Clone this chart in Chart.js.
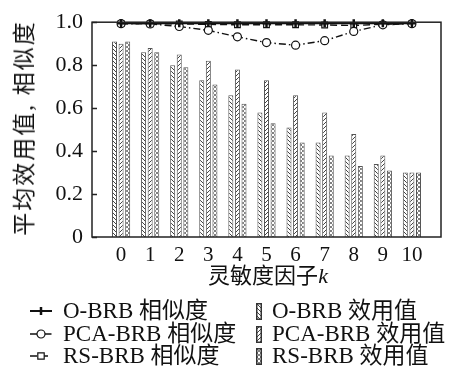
<!DOCTYPE html>
<html lang="zh">
  <head>
    <meta charset="UTF-8" />
    <title>sensitivity</title>
    <script src="https://cdn.jsdelivr.net/npm/chart.js@4.4.0/dist/chart.umd.min.js"></script>
    <style>
      html, body { margin: 0; padding: 0; background: #fff; }
      .wrap { position: relative; width: 454px; height: 372px; overflow: hidden; }
      .wrap canvas { position: absolute; left: 0; top: 0; }
      .txt { position: absolute; white-space: nowrap; color: #111;
             font-family: 'Liberation Serif', 'Noto Sans CJK SC', serif; }
      .ytitle { left: 22px; top: 128px; font-size: 23px; letter-spacing: 2px;
                transform: translate(-50%, -50%) rotate(-90deg); }
      .xtitle { left: 268px; top: 273px; font-size: 22px; transform: translate(-50%, -50%); }
      .xtitle i { font-family: 'Liberation Serif', serif; }
      .leg { font-size: 23px; line-height: 22px; height: 22px; }
      .leg canvas { position: absolute; }
    </style>
  </head>
  <body>
    <div class="wrap" id="wrap">
      <canvas id="chart" width="454" height="372"></canvas>
      <div class="txt ytitle">平均效用值, 相似度</div>
      <div class="txt xtitle">灵敏度因子<i>k</i></div>
    </div>

    <script>
      //data
      const categories = [0, 1, 2, 3, 4, 5, 6, 7, 8, 9, 10];
      const oUtility = [0.91, 0.86, 0.80, 0.73, 0.66, 0.58, 0.51, 0.44, 0.38, 0.34, 0.30];
      const pcaUtility = [0.90, 0.88, 0.85, 0.82, 0.78, 0.73, 0.66, 0.58, 0.48, 0.38, 0.30];
      const rsUtility = [0.91, 0.86, 0.79, 0.71, 0.62, 0.53, 0.44, 0.38, 0.33, 0.31, 0.30];
      const oSimilarity = [0.995, 0.995, 0.995, 0.995, 0.995, 0.995, 0.995, 0.995, 0.995, 0.995, 0.995];
      const pcaSimilarity = [0.993, 0.992, 0.98, 0.962, 0.932, 0.905, 0.893, 0.914, 0.957, 0.988, 0.993];
      const rsSimilarity = [0.994, 0.993, 0.992, 0.99, 0.988, 0.988, 0.988, 0.987, 0.985, 0.99, 0.994];
      const yTicks = [0, 0.2, 0.4, 0.6, 0.8, 1.0];

      const toPoints = (vals) => categories.map((k, i) => ({ x: k, y: vals[i] }));

      //patterns
      function makePattern(kind) {
        const c = document.createElement('canvas');
        c.width = 4;
        c.height = 4;
        const g = c.getContext('2d');
        g.fillStyle = '#fff';
        g.fillRect(0, 0, 4, 4);
        g.strokeStyle = '#444';
        g.lineWidth = 1;
        if (kind === 'back') {
          g.beginPath();
          g.moveTo(-1, -1); g.lineTo(5, 5);
          g.moveTo(-1, 3); g.lineTo(1, 5);
          g.moveTo(3, -1); g.lineTo(5, 1);
          g.stroke();
        } else if (kind === 'fwd') {
          g.beginPath();
          g.moveTo(5, -1); g.lineTo(-1, 5);
          g.moveTo(1, -1); g.lineTo(-1, 1);
          g.moveTo(5, 3); g.lineTo(3, 5);
          g.stroke();
        } else {
          g.fillStyle = '#808080';
          g.fillRect(0, 0, 2, 2);
          g.fillRect(2, 2, 2, 2);
        }
        return g.createPattern(c, 'repeat');
      }

      const barStyle = (pattern) => ({
        type: 'bar',
        backgroundColor: pattern,
        borderColor: '#555',
        borderWidth: 1,
        categoryPercentage: 0.68,
        barPercentage: 0.76,
        order: 3
      });

      const lineStyle = {
        type: 'line',
        borderColor: '#111',
        pointBorderColor: '#111',
        fill: false,
        clip: false,
        order: 1
      };

      const datasets = [
        Object.assign({ label: 'O-BRB 效用值', data: toPoints(oUtility) }, barStyle(makePattern('back'))),
        Object.assign({ label: 'PCA-BRB 效用值', data: toPoints(pcaUtility) }, barStyle(makePattern('fwd'))),
        Object.assign({ label: 'RS-BRB 效用值', data: toPoints(rsUtility) }, barStyle(makePattern('dots'))),
        Object.assign({}, lineStyle, {
          label: 'O-BRB 相似度', data: toPoints(oSimilarity),
          borderWidth: 2, pointBorderWidth: 2.5,
          pointStyle: 'cross', pointRadius: 4, pointBackgroundColor: '#111'
        }),
        Object.assign({}, lineStyle, {
          label: 'PCA-BRB 相似度', data: toPoints(pcaSimilarity),
          borderWidth: 1.4, borderDash: [7, 3, 1.5, 3],
          pointStyle: 'circle', pointRadius: 4, pointBorderWidth: 1.2, pointBackgroundColor: '#fff'
        }),
        Object.assign({}, lineStyle, {
          label: 'RS-BRB 相似度', data: toPoints(rsSimilarity),
          borderWidth: 1.4, borderDash: [7, 4],
          pointStyle: 'rect', pointRadius: 4, pointBorderWidth: 1.2, pointBackgroundColor: '#fff'
        })
      ];

      //box + inner ticks
      const frame = {
        id: 'frame',
        afterDraw(chart) {
          const { ctx, chartArea: a } = chart;
          const y = chart.scales.y;
          ctx.save();
          ctx.strokeStyle = '#222';
          ctx.lineWidth = 1.5;
          ctx.strokeRect(a.left, a.top, a.right - a.left, a.bottom - a.top);
          ctx.beginPath();
          yTicks.forEach((v) => {
            const py = Math.round(y.getPixelForValue(v)) + 0.5;
            ctx.moveTo(a.left, py);
            ctx.lineTo(a.left + 5, py);
          });
          ctx.stroke();
          ctx.restore();
        }
      };

      const tickFont = { family: "'Liberation Serif', serif" };

      //config
      const config = {
        data: { datasets },
        options: {
          responsive: false,
          animation: false,
          layout: { padding: { left: 0, top: 19, right: 13, bottom: 0 } },
          plugins: { legend: { display: false }, title: { display: false }, tooltip: { enabled: false } },
          scales: {
            x: {
              type: 'linear',
              min: -1,
              max: 11,
              offset: false,
              grid: { display: false, drawTicks: false, offset: false },
              border: { display: false },
              ticks: {
                stepSize: 1,
                autoSkip: false,
                maxRotation: 0,
                padding: 6,
                color: '#111',
                font: Object.assign({ size: 21 }, tickFont),
                callback: (v) => (v >= 0 && v <= 10 ? String(v) : '')
              },
              afterFit: (s) => { s.height = 135; }
            },
            y: {
              min: 0,
              max: 1,
              grid: { display: false, drawTicks: false },
              border: { display: false },
              ticks: {
                stepSize: 0.2,
                padding: 9,
                color: '#111',
                font: Object.assign({ size: 22 }, tickFont),
                callback: (v) => (v === 0 ? '0' : v.toFixed(1))
              },
              afterFit: (s) => { s.width = 92; }
            }
          }
        },
        plugins: [frame]
      };

      //init
      const chart = new Chart(document.getElementById('chart'), config);

      //legend
      const wrap = document.getElementById('wrap');
      const rows = [311, 334, 356];
      function addLegend(text, left, top, iconW, iconH, iconX, draw) {
        const d = document.createElement('div');
        d.className = 'txt leg';
        d.style.left = left + 'px';
        d.style.top = (top - 11) + 'px';
        d.textContent = text;
        wrap.appendChild(d);
        const c = document.createElement('canvas');
        c.width = iconW;
        c.height = iconH;
        c.style.left = iconX + 'px';
        c.style.top = (top - iconH / 2) + 'px';
        wrap.appendChild(c);
        draw(c.getContext('2d'), iconW, iconH);
      }
      function lineIcon(ds) {
        return (g, w, h) => {
          g.strokeStyle = '#111';
          g.lineWidth = ds.borderWidth;
          g.setLineDash(ds.borderDash || []);
          g.beginPath();
          g.moveTo(0, h / 2);
          g.lineTo(w, h / 2);
          g.stroke();
          g.setLineDash([]);
          g.lineWidth = ds.pointBorderWidth;
          g.fillStyle = ds.pointBackgroundColor;
          const cx = w / 2, cy = h / 2, r = 4;
          g.beginPath();
          if (ds.pointStyle === 'circle') {
            g.arc(cx, cy, r, 0, Math.PI * 2);
            g.fill();
            g.stroke();
          } else if (ds.pointStyle === 'rect') {
            g.rect(cx - r * 0.8, cy - r * 0.8, r * 1.6, r * 1.6);
            g.fill();
            g.stroke();
          } else {
            g.moveTo(cx, cy - r);
            g.lineTo(cx, cy + r);
            g.stroke();
          }
        };
      }
      function barIcon(ds) {
        return (g, w, h) => {
          g.fillStyle = ds.backgroundColor;
          g.fillRect(0, 0, w, h);
          g.strokeStyle = '#333';
          g.lineWidth = 1.5;
          g.strokeRect(0.75, 0.75, w - 1.5, h - 1.5);
        };
      }
      [3, 4, 5].forEach((di, i) => {
        addLegend(datasets[di].label, 63, rows[i], 22, 14, 30, lineIcon(datasets[di]));
      });
      [0, 1, 2].forEach((di, i) => {
        addLegend(datasets[di].label, 272, rows[i], 6, 17, 256, barIcon(datasets[di]));
      });
    </script>
  </body>
</html>
